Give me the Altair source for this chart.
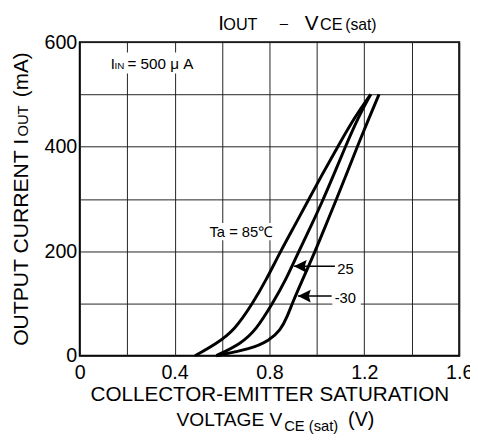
import altair as alt
import pandas as pd

FONT = "Liberation Sans"

# ---- curve data: VCE(sat) [V] vs IOUT [mA] ----
v_85 = [0.486, 0.576, 0.653, 0.729, 0.785, 0.847, 0.905, 0.955, 1.020, 1.088, 1.160, 1.227]
i_85 = [0, 23, 49, 100, 144, 200, 248, 290, 345, 400, 457, 500]
v_25 = [0.576, 0.680, 0.743, 0.813, 0.868, 0.924, 0.975, 1.018, 1.070, 1.120, 1.175, 1.227]
i_25 = [0, 23, 49, 100, 144, 200, 248, 290, 345, 400, 457, 500]
v_m30 = [0.576, 0.722, 0.799, 0.847, 0.875, 0.896, 0.938, 0.993, 1.036, 1.074, 1.123, 1.170, 1.222, 1.262]
i_m30 = [0, 13, 29, 49, 75, 100, 144, 200, 248, 290, 345, 400, 457, 500]

# ---- axes ----
x_grid = [0, 0.2, 0.4, 0.6, 0.8, 1.0, 1.2, 1.4, 1.6]
y_grid = [0, 100, 200, 300, 400, 500, 600]

# ---- in-plot annotations (data units) ----
ann_text = ["Ta = 85℃", "25", "-30", "I", "IN", "= 500 μ A"]
ann_v = [0.547, 1.086, 1.075, 0.1305, 0.147, 0.201]
ann_i = [227, 156, 100, 549, 549, 549]
ann_size = [15, 15, 15, 15, 10, 15.5]

box_v1 = [0.120, 0.539, 1.065]
box_v2 = [0.497, 0.837, 1.185]
box_i1 = [540, 221, 92]
box_i2 = [580, 254, 126]

arrow_tip_v = [0.903, 0.920]
arrow_tail_v = [1.076, 1.062]
arrow_i = [171, 114]

# ---- titles outside the plot (page pixel positions) ----
title_text = ["I", "OUT", "–", "V", "CE", "(sat)",
              "OUTPUT CURRENT I", "OUT", "(mA)",
              "COLLECTOR-EMITTER SATURATION",
              "VOLTAGE V", "CE (sat)", "(V)"]
title_px = [222, 227, 284.5, 310, 325.5, 351,
            28, 28, 28,
            92,
            179.5, 289, 354]
title_py = [27, 27, 25, 27, 27, 27,
            348, 135, 95,
            404,
            430, 435, 430]
title_size = [21, 16.5, 15, 21, 16.5, 16,
              21.5, 15, 21,
              21,
              19.5, 15, 20]
title_angle = [0, 0, 0, 0, 0, 0,
               270, 270, 270,
               0,
               0, 0, 0]

W, H = 386, 319
OX, OY = 81, 39

curves = pd.concat([
    pd.DataFrame({"v": v_85, "i": i_85, "s": "85"}),
    pd.DataFrame({"v": v_25, "i": i_25, "s": "25"}),
    pd.DataFrame({"v": v_m30, "i": i_m30, "s": "-30"}),
], ignore_index=True)
curves["o"] = range(len(curves))

ann = pd.DataFrame({"t": ann_text, "v": ann_v, "i": ann_i, "fs": ann_size})
boxes = pd.DataFrame({"v": box_v1, "v2": box_v2, "i": box_i1, "i2": box_i2})
arrows = pd.DataFrame({"v": arrow_tip_v, "v2": arrow_tail_v, "i": arrow_i})

xs = alt.Scale(domain=[0, 1.6], nice=False, zero=False)
ys = alt.Scale(domain=[0, 600], nice=False, zero=False)

x_axis = alt.Axis(values=x_grid, grid=True, ticks=False, domain=False, title=None,
                  labelExpr="datum.value == 0 ? '0' : (round(datum.value*10) % 4 == 0 ? format(datum.value, '.1f') : '')",
                  labelFont=FONT, labelFontSize=20, labelColor="#000", labelPadding=7,
                  labelFlush=False, labelOverlap=False,
                  gridColor="#222", gridWidth=1, gridOpacity=1)
y_axis = alt.Axis(values=y_grid, grid=True, ticks=False, domain=False, title=None,
                  labelExpr="round(datum.value) % 200 == 0 ? format(datum.value, 'd') : ''",
                  labelFont=FONT, labelFontSize=20, labelColor="#000", labelPadding=3,
                  labelFlush=False, labelOverlap=False,
                  gridColor="#222", gridWidth=1, gridOpacity=1)

X = alt.X("v:Q", scale=xs, axis=x_axis)
Y = alt.Y("i:Q", scale=ys, axis=y_axis)

box_layer = alt.Chart(boxes).mark_rect(fill="white", stroke=None).encode(
    x=X, x2="v2:Q", y=Y, y2="i2:Q")

line_layer = alt.Chart(curves).mark_line(color="black", strokeWidth=3, interpolate="basis").encode(
    x=X, y=Y, detail="s:N", order="o:Q")

rule_layer = alt.Chart(arrows).mark_rule(color="black", strokeWidth=1.5).encode(
    x=X, x2="v2:Q", y=Y)

head_layer = alt.Chart(arrows).mark_point(
    shape="M0,0L2,-1L1.7,0L2,1Z", filled=True, color="black", opacity=1, size=169, strokeWidth=0
).encode(x=X, y=Y)

ann_layer = alt.Chart(ann).mark_text(font=FONT, color="black", align="left", baseline="alphabetic").encode(
    x=X, y=Y, text="t:N", size=alt.Size("fs:Q", scale=None, legend=None))

layers = [box_layer, line_layer, rule_layer, head_layer, ann_layer]

one = pd.DataFrame({"d": [0]})
for t, px, py, fs, ang in zip(title_text, title_px, title_py, title_size, title_angle):
    layers.append(
        alt.Chart(one).mark_text(text=t, font=FONT, fontSize=fs, angle=ang, color="black",
                                 align="left", baseline="alphabetic").encode(
            x=alt.value(px - OX), y=alt.value(py - OY))
    )

chart = alt.layer(*layers).properties(
    width=W, height=H,
    autosize=alt.AutoSizeParams(type="none"),
    padding={"left": OX - 8, "top": OY - 8, "right": 11, "bottom": 78},
    background="white",
).configure_view(stroke="black", strokeWidth=2)

chart.save("out.html", embed_options={"renderer": "svg", "actions": False})
